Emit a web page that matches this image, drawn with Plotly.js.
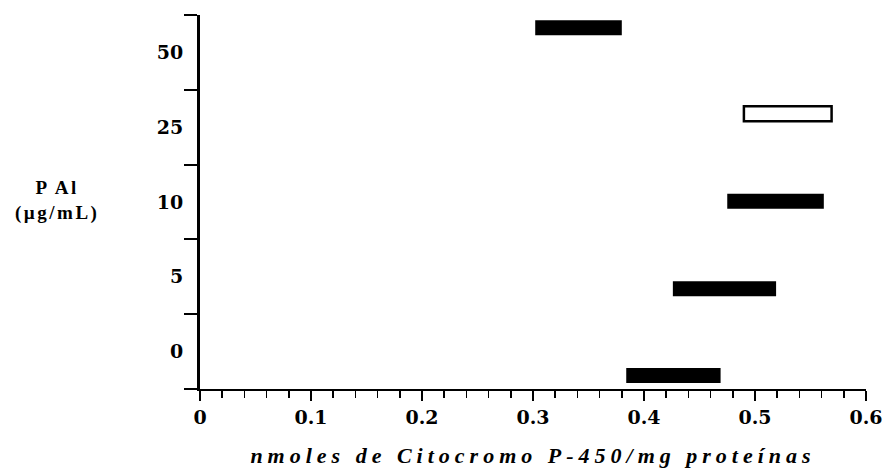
<!DOCTYPE html>
<html>
<head>
<meta charset="utf-8">
<script src="https://cdn.plot.ly/plotly-3.0.1.min.js"></script>
<style>
  html, body { margin: 0; padding: 0; background: #fff; }
  #chart { width: 884px; height: 468px; }
  .xtitle { letter-spacing: 5px; }
  .annotation-text { letter-spacing: 2.5px; }
</style>
</head>
<body>
<div id="chart"></div>
<script>
// Dose categories (PAl, µg/mL), bottom to top
var doseLabels = ['0', '5', '10', '25', '50'];
// Vertical position of each bar on the dose axis (band units, as drawn)
var barYPos = [0.18, 1.34, 2.51, 3.68, 4.83];
// Range of cytochrome P-450 (nmoles/mg protein): start and end of each bar
var rangeStart = [0.384, 0.426, 0.475, 0.490, 0.302];
var rangeEnd   = [0.469, 0.519, 0.562, 0.569, 0.380];
// Whether each bar is drawn open (white fill)
var openBar = [false, false, false, true, false];

var lengths = rangeStart.map(function (s, i) { return rangeEnd[i] - s; });
var fills = openBar.map(function (o) { return o ? '#ffffff' : '#000000'; });
var lineW = openBar.map(function (o) { return o ? 2.5 : 0; });

var trace = {
  type: 'bar',
  orientation: 'h',
  y: barYPos,
  x: lengths,
  base: rangeStart,
  width: 0.2,
  marker: { color: fills, line: { color: '#000', width: lineW } },
  hoverinfo: 'skip',
  showlegend: false
};

var tickFam = '"DejaVu Serif", "Liberation Serif", serif';
var titleFam = '"Liberation Serif", "DejaVu Serif", serif';
var bandCenters = doseLabels.map(function (d, i) { return i + 0.5; });
var bandEdges = [0, 1, 2, 3, 4, 5];

var layout = {
  width: 884,
  height: 468,
  margin: { l: 200, r: 18, t: 15, b: 79 },
  paper_bgcolor: '#fff',
  plot_bgcolor: '#fff',
  showlegend: false,
  xaxis: {
    range: [0, 0.6],
    tickmode: 'linear',
    tick0: 0,
    dtick: 0.1,
    tickformat: '.1~f',
    ticks: 'outside',
    ticklen: 10,
    tickwidth: 2,
    tickcolor: '#000',
    minor: { dtick: 0.02, tick0: 0, ticks: 'outside', ticklen: 7, tickwidth: 1.5, tickcolor: '#000' },
    showline: true,
    linecolor: '#000',
    linewidth: 2,
    showgrid: false,
    zeroline: false,
    tickfont: { family: tickFam, size: 19, color: '#000', weight: 'bold' },
    title: {
      text: 'nmoles de Citocromo P-450/mg proteínas',
      font: { family: titleFam, size: 22, color: '#000', weight: 'bold', style: 'italic' },
      standoff: 24
    },
    fixedrange: true
  },
  yaxis: {
    range: [0, 5],
    tickmode: 'array',
    tickvals: bandCenters,
    ticktext: doseLabels,
    ticks: 'outside',
    ticklen: 10,
    tickcolor: 'rgba(0,0,0,0)',
    minor: { tickmode: 'array', tickvals: bandEdges, ticks: 'outside', ticklen: 13, tickwidth: 2, tickcolor: '#000' },
    showline: true,
    linecolor: '#000',
    linewidth: 3,
    showgrid: false,
    zeroline: false,
    tickfont: { family: tickFam, size: 19, color: '#000', weight: 'bold' },
    fixedrange: true
  },
  annotations: [
    {
      xref: 'paper', yref: 'paper',
      x: -0.215, y: 0.505,
      xanchor: 'center', yanchor: 'middle',
      showarrow: false,
      align: 'center',
      text: 'P Al<br>(µg/mL)',
      font: { family: titleFam, size: 19, color: '#000', weight: 'bold' }
    }
  ]
};

Plotly.newPlot('chart', [trace], layout, { displayModeBar: false, staticPlot: true });
</script>
</body>
</html>
